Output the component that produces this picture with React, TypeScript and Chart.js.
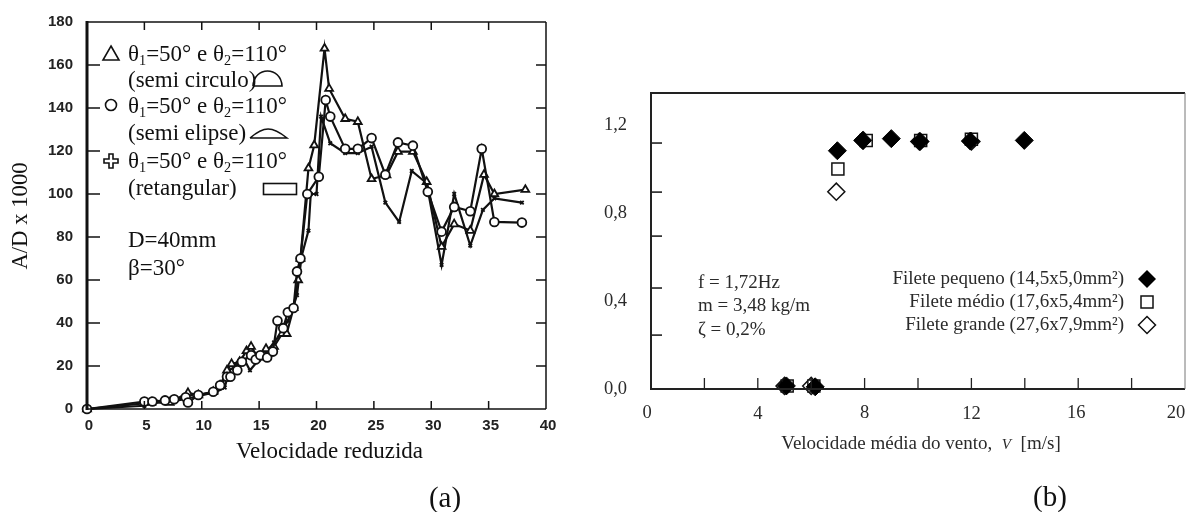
import React, { useEffect, useRef } from "react";
import { Chart, registerables } from "chart.js";

Chart.register(...registerables);

// ---- Panel (a) ----
const triangleX = [0, 5.6, 7.2, 8.8, 9.7, 11, 11.6, 12.2, 12.6, 13.3, 13.9, 14.3, 14.9, 15.6, 16.3, 17, 17.4, 18, 18.4, 18.6, 19.3, 19.8, 20.7, 21.1, 22.5, 23.6, 24.8, 26.1, 27.1, 28.4, 29.6, 30.9, 32, 33.4, 34.6, 35.5, 38.2];
const triangleY = [0, 3, 3, 7.5, 6.5, 8, 11, 18, 21, 22, 27, 29, 24, 28, 29, 35, 35, 47, 60, 70, 112, 122.7, 167.7, 149, 135, 133.6, 107, 108.8, 119.7, 119.7, 105.7, 75.5, 86, 83, 109, 100, 102];
const circleX = [0, 5, 5.7, 6.8, 7.6, 8.6, 8.8, 9.7, 11, 11.6, 12.2, 12.5, 13.1, 13.5, 14.3, 14.7, 15.1, 15.7, 16.2, 16.6, 17.1, 17.5, 18, 18.3, 18.6, 19.2, 20.2, 20.8, 21.2, 22.5, 23.6, 24.8, 26, 27.1, 28.4, 29.7, 30.9, 32, 33.4, 34.4, 35.5, 37.9];
const circleY = [0, 3.5, 3.5, 4, 4.5, 5.5, 3, 6.5, 8, 11, 15, 15, 18, 22, 25, 23, 25, 24, 26.7, 41, 37.6, 45, 47, 64, 70, 100, 108, 143.7, 136, 121, 121, 126, 109, 124, 122.5, 101, 82.5, 94, 92, 121, 87, 86.7];
const crossX = [0, 5, 6, 7.5, 9.7, 11.3, 12, 12.4, 13, 13.7, 14.2, 15, 15.7, 16.3, 17, 17.5, 18, 18.3, 18.7, 19.3, 19.5, 20, 20.4, 21.2, 22.5, 23.6, 24.8, 26, 27.2, 28.3, 29.6, 30.9, 32, 33.4, 34.5, 35.5, 37.9];
const crossY = [0, 1.5, 3.5, 3.5, 6, 8, 10, 18, 20, 23, 18, 23, 27, 31, 36, 41, 48, 53, 71, 83, 100, 100, 136, 123.6, 119, 119, 122, 96, 87, 110.7, 105, 67, 100, 76, 92.6, 98, 96];
const aXTicks = [0, 5, 10, 15, 20, 25, 30, 35, 40];
const aYTicks = [0, 20, 40, 60, 80, 100, 120, 140, 160, 180];

// ---- Panel (b) ----
const smallX = [5.07, 6.15, 6.98, 7.93, 9.0, 10.08, 11.96, 13.98];
const smallY = [0.014, 0.01, 1.083, 1.13, 1.138, 1.125, 1.127, 1.13];
const mediumX = [5.1, 6.1, 7.0, 8.06, 10.1, 12.0];
const mediumY = [0.014, 0.014, 1.0, 1.13, 1.13, 1.135];
const largeX = [5.0, 6.0, 6.94, 7.95, 10.05, 12.0];
const largeY = [0.014, 0.014, 0.897, 1.13, 1.125, 1.125];
const bXTickMarks = [2, 4, 6, 8, 10, 12, 14, 16, 18];
const bXLabels = [0, 4, 8, 12, 16, 20];
const bYLabels = [0, 0.4, 0.8, 1.2];
const bYTickMarks = [0.245, 0.459, 0.695, 0.895, 1.118];

const zip = (xs: number[], ys: number[]) => xs.map((x, i) => ({ x, y: ys[i] }));
const SERIF = '"Liberation Serif"';

type Run = [string, number?, number?, boolean?];
function rich(ctx: CanvasRenderingContext2D, runs: Run[], x: number, y: number, size: number, color: string, rot = 0, align = "left") {
  ctx.save();
  ctx.fillStyle = color;
  ctx.textAlign = "left";
  ctx.textBaseline = "alphabetic";
  const font = (r: Run) => `${r[3] ? "italic " : ""}${(r[1] ?? 1) * size}px ${SERIF}`;
  let w = 0;
  for (const r of runs) { ctx.font = font(r); w += ctx.measureText(r[0]).width; }
  ctx.translate(x, y);
  ctx.rotate(rot);
  let cx = align === "right" ? -w : align === "center" ? -w / 2 : 0;
  for (const r of runs) {
    ctx.font = font(r);
    ctx.fillText(r[0], cx, r[2] ?? 0);
    cx += ctx.measureText(r[0]).width;
  }
  ctx.restore();
}

const thetaLine: Run[] = [["θ"], ["1", 0.62, 4], ["=50° e θ"], ["2", 0.62, 4], ["=110°"]];

const panelA = {
  id: "panelA",
  afterDraw(chart: any) {
    const { ctx, chartArea: a, scales } = chart;
    const x = scales.x, y = scales.y;
    ctx.save();
    ctx.strokeStyle = "#111";
    ctx.lineCap = "butt";
    const line = (x1: number, y1: number, x2: number, y2: number, lw: number) => {
      ctx.lineWidth = lw; ctx.beginPath(); ctx.moveTo(x1, y1); ctx.lineTo(x2, y2); ctx.stroke();
    };
    line(a.left, a.top - 1, a.left, a.bottom + 1, 3);
    line(a.left, a.top, a.right, a.top, 1.5);
    line(a.right, a.top, a.right, a.bottom, 1.5);
    line(a.left, a.bottom, a.right, a.bottom, 1.5);
    for (const v of aXTicks.slice(1, -1)) {
      const p = x.getPixelForValue(v);
      line(p, a.bottom, p, a.bottom - 8, 1.5);
      line(p, a.top, p, a.top + 8, 1.5);
    }
    for (const v of aYTicks.slice(1, -1)) {
      const p = y.getPixelForValue(v);
      line(a.left, p, a.left + 13, p, 1.5);
      line(a.right, p, a.right - 10, p, 1.5);
    }
    // legend glyphs
    ctx.lineWidth = 1.6;
    ctx.fillStyle = "#fff";
    ctx.beginPath(); ctx.moveTo(111, 46); ctx.lineTo(119, 60); ctx.lineTo(103, 60); ctx.closePath(); ctx.stroke();
    ctx.beginPath(); ctx.arc(111, 105, 5.5, 0, Math.PI * 2); ctx.stroke();
    ctx.beginPath();
    const c = [[-2, -7], [2, -7], [2, -2], [7, -2], [7, 2], [2, 2], [2, 7], [-2, 7], [-2, 2], [-7, 2], [-7, -2], [-2, -2]];
    c.forEach(([dx, dy], i) => (i ? ctx.lineTo(111 + dx, 161 + dy) : ctx.moveTo(111 + dx, 161 + dy)));
    ctx.closePath(); ctx.stroke();
    ctx.beginPath(); ctx.moveTo(253, 86); ctx.lineTo(282, 86); ctx.bezierCurveTo(281, 66, 254, 66, 253, 86); ctx.stroke();
    ctx.beginPath(); ctx.moveTo(250, 138); ctx.lineTo(287, 138); ctx.bezierCurveTo(272, 126, 264, 126, 250, 138); ctx.stroke();
    ctx.strokeRect(263.5, 183.5, 33, 11);
    ctx.restore();

    const col = "#111";
    const S = 23;
    rich(ctx, thetaLine, 128, 61, S, col);
    rich(ctx, [["(semi circulo)"]], 128, 87, S, col);
    rich(ctx, thetaLine, 128, 113, S, col);
    rich(ctx, [["(semi elipse)"]], 128, 140, S, col);
    rich(ctx, thetaLine, 128, 168, S, col);
    rich(ctx, [["(retangular)"]], 128, 195, S, col);
    rich(ctx, [["D=40mm"]], 128, 247, S, col);
    rich(ctx, [["β=30°"]], 128, 275, S, col);
    rich(ctx, [["Velocidade reduzida"]], 329.5, 458, S, col, 0, "center");
    rich(ctx, [["A/D x 1000"]], 27, 216, 22.7, col, -Math.PI / 2, "center");
    rich(ctx, [["(a)"]], 445, 507, 29, col, 0, "center");
  },
};

const panelB = {
  id: "panelB",
  afterDraw(chart: any) {
    const { ctx, chartArea: a, scales } = chart;
    const x = scales.x, y = scales.y;
    const ox = 600;
    ctx.save();
    ctx.strokeStyle = "#222";
    const line = (x1: number, y1: number, x2: number, y2: number, lw: number, s = "#222") => {
      ctx.strokeStyle = s; ctx.lineWidth = lw; ctx.beginPath(); ctx.moveTo(x1, y1); ctx.lineTo(x2, y2); ctx.stroke();
    };
    line(a.left, a.top - 1, a.left, a.bottom + 1, 2);
    line(a.left, a.top, a.right, a.top, 2);
    line(a.left, a.bottom, a.right, a.bottom, 2);
    line(a.right, a.top, a.right, a.bottom, 1, "#777");
    for (const v of bXTickMarks) {
      const p = x.getPixelForValue(v);
      line(p, a.bottom, p, a.bottom - 11, 1.3);
    }
    for (const v of bYTickMarks) {
      const p = y.getPixelForValue(v);
      line(a.left, p, a.left + 11, p, 1.6);
    }
    // legend glyphs
    ctx.strokeStyle = "#111"; ctx.lineWidth = 1.5;
    ctx.fillStyle = "#000";
    const dia = (cx: number, cy: number, r: number) => {
      ctx.beginPath(); ctx.moveTo(cx, cy - r); ctx.lineTo(cx + r, cy); ctx.lineTo(cx, cy + r); ctx.lineTo(cx - r, cy); ctx.closePath();
    };
    dia(1147 - ox, 279, 9); ctx.fill();
    ctx.strokeRect(1141 - ox, 296, 12, 12);
    dia(1147 - ox, 325, 8.5); ctx.stroke();
    ctx.restore();

    const col = "#2a2a2a";
    const S = 19;
    bXLabels.forEach((v, i) => {
      const dx = [-4, 0, 0, 0, -2, -9][i];
      const dy = [0, 1, 0, 1, 0, 0][i];
      rich(ctx, [[String(v)]], x.getPixelForValue(v) + dx, 418 + dy, 18.5, col, 0, "center");
    });
    rich(ctx, [["f = 1,72Hz"]], 698 - ox, 288, S, col);
    rich(ctx, [["m = 3,48 kg/m"]], 698 - ox, 311, S, col);
    rich(ctx, [["ζ = 0,2%"]], 698 - ox, 335, S, col);
    rich(ctx, [["Filete pequeno (14,5x5,0mm²)"]], 1124 - ox, 284, S, col, 0, "right");
    rich(ctx, [["Filete médio (17,6x5,4mm²)"]], 1124 - ox, 307, S, col, 0, "right");
    rich(ctx, [["Filete grande (27,6x7,9mm²)"]], 1124 - ox, 330, S, col, 0, "right");
    rich(ctx, [["Velocidade média do vento,  "], ["V", 0.8, 0, true], ["  [m/s]"]], 921 - ox, 449, 19, col, 0, "center");
    rich(ctx, [["A"], ["máx", 0.7, 3], ["/A"], [" per.", 0.7, 3]], 592 - ox, 257, 20, col, -Math.PI / 2, "center");
    rich(ctx, [["(b)"]], 1050 - ox, 506, 29, "#111", 0, "center");
  },
};

function useChart(ref: React.RefObject<HTMLCanvasElement | null>, make: (c: HTMLCanvasElement) => Chart) {
  useEffect(() => {
    if (!ref.current) return;
    const chart = make(ref.current);
    return () => chart.destroy();
  }, []);
}

export default function App() {
  const aRef = useRef<HTMLCanvasElement>(null);
  const bRef = useRef<HTMLCanvasElement>(null);

  useChart(aRef, (c) => {
    const ser = (label: string, xs: number[], ys: number[], style: string, r: number, bg: string) => ({
      label, data: zip(xs, ys), showLine: true, borderColor: "#111", borderWidth: 2.2, tension: 0,
      pointStyle: style, pointRadius: r, pointBackgroundColor: bg, pointBorderColor: "#111", pointBorderWidth: 1.8, clip: false,
    });
    return new Chart(c, {
      type: "scatter",
      data: {
        datasets: [
          ser("θ1=50° e θ2=110° (semi elipse)", circleX, circleY, "circle", 4.4, "#fff"),
          ser("θ1=50° e θ2=110° (semi circulo)", triangleX, triangleY, "triangle", 4.5, "#fff"),
          ser("θ1=50° e θ2=110° (retangular)", crossX, crossY, "crossRot", 2.5, "#111"),
        ],
      },
      options: {
        responsive: false, animation: false,
        layout: { autoPadding: false, padding: { top: 22, right: 54, left: 0, bottom: 0 } },
        plugins: { legend: { display: false }, tooltip: { enabled: false } },
        scales: {
          x: {
            type: "linear", min: 0, max: 40, border: { display: false }, grid: { display: false },
            afterBuildTicks: (s: any) => { s.ticks = aXTicks.map((value) => ({ value })); },
            afterFit: (s: any) => { s.height = 103; },
            ticks: { padding: 0, labelOffset: 2, color: "#222", maxRotation: 0, font: { family: '"Liberation Sans"', weight: "bold", size: 15 } },
          },
          y: {
            type: "linear", min: 0, max: 180, border: { display: false }, grid: { display: false },
            afterBuildTicks: (s: any) => { s.ticks = aYTicks.map((value) => ({ value })); },
            afterFit: (s: any) => { s.width = 87; },
            ticks: { padding: 6, color: "#222", font: { family: '"Liberation Sans"', weight: "bold", size: 15 } },
          },
        },
      },
      plugins: [panelA],
    } as any);
  });

  useChart(bRef, (c) => {
    return new Chart(c, {
      type: "scatter",
      data: {
        datasets: [
          { label: "Filete pequeno (14,5x5,0mm²)", data: zip(smallX, smallY), pointStyle: "rectRot", pointRadius: 9, pointBackgroundColor: "#000", pointBorderColor: "#000", pointBorderWidth: 1, clip: false },
          { label: "Filete médio (17,6x5,4mm²)", data: zip(mediumX, mediumY), pointStyle: "rect", pointRadius: 8.5, pointBackgroundColor: "#fff", pointBorderColor: "#111", pointBorderWidth: 1.5, clip: false },
          { label: "Filete grande (27,6x7,9mm²)", data: zip(largeX, largeY), pointStyle: "rectRot", pointRadius: 8.5, pointBackgroundColor: "#fff", pointBorderColor: "#111", pointBorderWidth: 1.5, clip: false },
        ],
      },
      options: {
        responsive: false, animation: false,
        layout: { autoPadding: false, padding: { top: 93, right: 1, left: 0, bottom: 0 } },
        plugins: { legend: { display: false }, tooltip: { enabled: false } },
        scales: {
          x: {
            type: "linear", min: 0, max: 20, border: { display: false }, grid: { display: false },
            afterFit: (s: any) => { s.height = 123; },
            ticks: { display: false },
          },
          y: {
            type: "linear", min: 0, max: 296 / 220, border: { display: false }, grid: { display: false },
            afterBuildTicks: (s: any) => { s.ticks = bYLabels.map((value) => ({ value })); },
            afterFit: (s: any) => { s.width = 51; },
            ticks: {
              padding: 16, color: "#2a2a2a", font: { family: SERIF, size: 18.5 },
              callback: (v: any) => Number(v).toFixed(1).replace(".", ","),
            },
          },
        },
      },
      plugins: [panelB],
    } as any);
  });

  return (
    <div style={{ position: "fixed", left: 0, top: 0, width: 1186, height: 512, overflow: "hidden", background: "#fff" }}>
      <canvas ref={aRef} width={600} height={512} style={{ position: "absolute", left: 0, top: 0, width: 600, height: 512 }} />
      <canvas ref={bRef} width={586} height={512} style={{ position: "absolute", left: 600, top: 0, width: 586, height: 512 }} />
    </div>
  );
}
